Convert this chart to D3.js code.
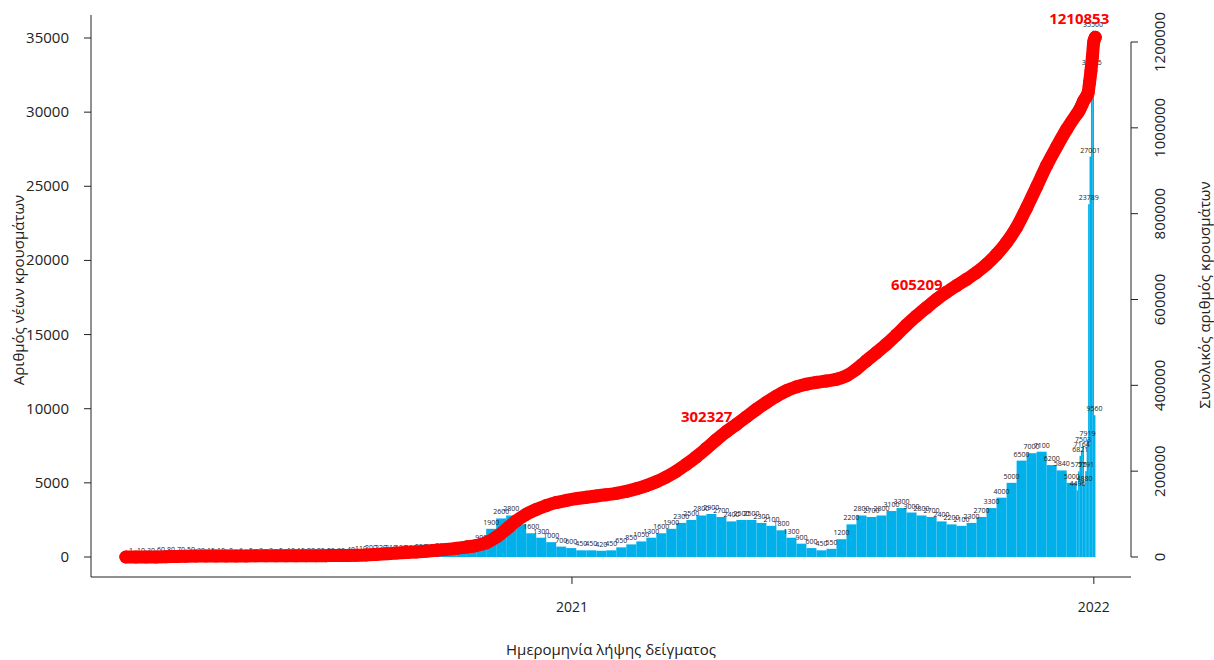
<!DOCTYPE html>
<html>
<head>
<meta charset="utf-8">
<script src="https://cdn.jsdelivr.net/npm/d3@7"></script>
<style>
  body { margin: 0; background: #fff; }
  text { font-family: "Open Sans", "Noto Sans", sans-serif; }
</style>
</head>
<body>
<svg id="chart" width="1214" height="660"></svg>
<script>
// weekly mean of new cases per day, weeks starting 2020-02-24
const weekStart = '2020-02-24';
const weeklyCases = [
  1, 10, 30, 60, 80, 70, 50, 30, 15, 10, 8, 6, 5, 3, 3, 5, 10, 15, 20, 25,
  25, 30, 40, 110, 200, 220, 210, 180, 220, 250, 280, 310, 350, 420, 520, 900,
  1900, 2600, 2800, 2200, 1600, 1300, 1000, 700, 600,
  450, 450, 420, 450, 650, 850, 1050, 1300, 1600, 1900, 2300, 2500, 2800, 2900, 2700, 2400,
  2500, 2500, 2300, 2100, 1800, 1300, 900, 600, 450, 550,
  1200, 2200, 2800, 2700, 2800, 3100, 3300, 3000, 2800, 2700,
  2400, 2200, 2100, 2300, 2700, 3300, 4000,
  5000, 6500, 7000, 7100, 6200, 5840, 5000
];
// daily new cases for the last two weeks, from 2021-12-20
const dayStart = '2021-12-20';
const dailyCases = [4496, 5775, 6821, 7164, 7503, 4880, 5791, 7919, 23789, 27001, 32915, 35500, 9560];
// milestones written in red on the cumulative curve
const milestones = [302327, 605209, 1210853];
const leftTicks = [0, 5000, 10000, 15000, 20000, 25000, 30000, 35000];
const rightTicks = [0, 200000, 400000, 600000, 800000, 1000000, 1200000];
const yearTicks = ['2021-01-01', '2022-01-01'];

const parse = d3.utcParse('%Y-%m-%d');
const svg = d3.select('#chart');

// build periods
let periods = [];
weeklyCases.forEach((v, i) => {
  const s = d3.utcDay.offset(parse(weekStart), i * 7);
  periods.push({ start: s, end: d3.utcDay.offset(s, 7), value: v, days: 7 });
});
dailyCases.forEach((v, i) => {
  const s = d3.utcDay.offset(parse(dayStart), i);
  periods.push({ start: s, end: d3.utcDay.offset(s, 1), value: v, days: 1 });
});
let cum = 0;
const cumPoints = [{ date: parse(weekStart), total: 0 }];
periods.forEach(p => {
  cum += p.value * p.days;
  p.total = cum;
  cumPoints.push({ date: p.end, total: cum });
});

const x = d3.scaleUtc()
  .domain([parse('2020-02-01'), parse('2022-01-27')])
  .range([93, 1131]);
const yL = d3.scaleLinear().domain([0, 35000]).range([557, 38]);
const yR = d3.scaleLinear().domain([0, 1200000]).range([557, 42]);

// bars
svg.append('g').selectAll('rect')
  .data(periods)
  .enter().append('rect')
  .attr('x', d => x(d.start))
  .attr('width', d => Math.max(x(d.end) - x(d.start), 1.6))
  .attr('y', d => yL(d.value))
  .attr('height', d => yL(0) - yL(d.value))
  .attr('fill', '#00b0ea');

// bar labels
svg.append('g').selectAll('text')
  .data(periods)
  .enter().append('text')
  .attr('x', d => (x(d.start) + x(d.end)) / 2)
  .attr('y', d => yL(d.value) - 4)
  .attr('text-anchor', 'middle')
  .attr('font-size', 7)
  .attr('fill', '#222')
  .text(d => d3.format('d')(d.value));

// cumulative curve
const line = d3.line().x(d => x(d.date)).y(d => yR(d.total)).curve(d3.curveMonotoneX);
svg.append('path')
  .datum(cumPoints)
  .attr('d', line)
  .attr('fill', 'none')
  .attr('stroke', '#ff0000')
  .attr('stroke-width', 13)
  .attr('stroke-linecap', 'round');
svg.append('g').selectAll('circle')
  .data(cumPoints)
  .enter().append('circle')
  .attr('cx', d => x(d.date))
  .attr('cy', d => yR(d.total))
  .attr('r', 6.5)
  .attr('fill', '#ff0000');

// milestone labels
milestones.forEach((m, i) => {
  const pt = cumPoints.find(p => p.total >= m) || cumPoints[cumPoints.length - 1];
  const last = i === milestones.length - 1;
  svg.append('text')
    .attr('x', last ? x(pt.date) - 16 : x(pt.date) - 4)
    .attr('y', last ? 24 : yR(pt.total) - 2)
    .attr('text-anchor', last ? 'middle' : 'end')
    .attr('font-size', 15)
    .attr('font-weight', 'bold')
    .attr('fill', '#ff0000')
    .text(m);
});

// axes
const axisCol = '#222';
svg.append('line').attr('x1', 91).attr('x2', 91).attr('y1', 15).attr('y2', 577).attr('stroke', axisCol);
svg.append('line').attr('x1', 91).attr('x2', 1131).attr('y1', 577).attr('y2', 577).attr('stroke', axisCol);

const left = svg.append('g');
leftTicks.forEach(t => {
  left.append('line').attr('x1', 84).attr('x2', 91).attr('y1', yL(t)).attr('y2', yL(t)).attr('stroke', axisCol);
  left.append('text').attr('x', 69).attr('y', yL(t) + 5).attr('text-anchor', 'end')
    .attr('font-size', 15).attr('fill', axisCol).text(t);
});

const right = svg.append('g');
right.append('line').attr('x1', 1131).attr('x2', 1131).attr('y1', yR(0)).attr('y2', yR(1200000)).attr('stroke', axisCol);
rightTicks.forEach(t => {
  right.append('line').attr('x1', 1131).attr('x2', 1138).attr('y1', yR(t)).attr('y2', yR(t)).attr('stroke', axisCol);
  right.append('text').attr('transform', `translate(1165,${yR(t)}) rotate(-90)`)
    .attr('text-anchor', 'middle').attr('font-size', 15).attr('fill', axisCol).text(t);
});

yearTicks.forEach(t => {
  const d = parse(t);
  svg.append('line').attr('x1', x(d)).attr('x2', x(d)).attr('y1', 577).attr('y2', 584).attr('stroke', axisCol);
  svg.append('text').attr('x', x(d)).attr('y', 612).attr('text-anchor', 'middle')
    .attr('font-size', 14).attr('fill', axisCol).text(d3.utcFormat('%Y')(d));
});

// titles
svg.append('text').attr('x', 611).attr('y', 655).attr('text-anchor', 'middle')
  .attr('font-size', 15).attr('fill', axisCol).text('Ημερομηνία λήψης δείγματος');
svg.append('text').attr('transform', 'translate(24,290) rotate(-90)').attr('text-anchor', 'middle')
  .attr('font-size', 15).attr('fill', axisCol).text('Αριθμός νέων κρουσμάτων');
svg.append('text').attr('transform', 'translate(1210,295) rotate(-90)').attr('text-anchor', 'middle')
  .attr('font-size', 15).attr('fill', axisCol).text('Συνολικός αριθμός κρουσμάτων');
</script>
</body>
</html>
